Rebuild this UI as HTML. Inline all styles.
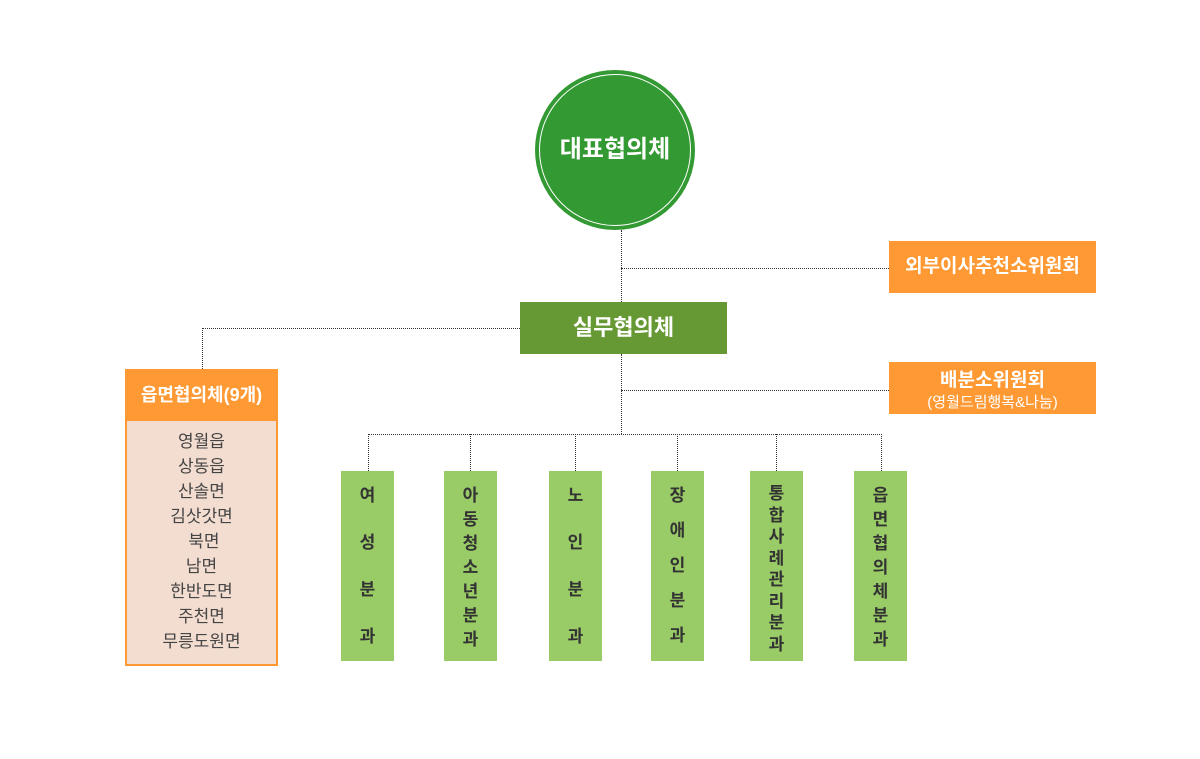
<!DOCTYPE html>
<html><head><meta charset="utf-8"><style>
body{margin:0;width:1200px;height:759px;background:#fff;position:relative;overflow:hidden;font-family:"Liberation Sans","Noto Sans CJK KR",sans-serif}
div{position:absolute;box-sizing:border-box}
.h{border-top:1px dotted #333;height:0}
.v{border-left:1px dotted #333;width:0}
.org{background:#ff9933;color:#fff;font-weight:bold;text-align:center}
.g{background:#99cc66;width:53px;top:471px;height:190px}
.c{width:53px;text-align:center;font-size:17px;font-weight:bold;color:#333;line-height:20px}
</style></head><body>
<div class="v" style="left:621px;top:230px;height:72px"></div>
<div class="v" style="left:621px;top:354px;height:80px"></div>
<div class="h" style="left:621px;top:268px;width:268px"></div>
<div class="h" style="left:621px;top:390px;width:268px"></div>
<div class="h" style="left:202px;top:328px;width:318px"></div>
<div class="v" style="left:202px;top:328px;height:41px"></div>
<div class="h" style="left:368px;top:434px;width:514px"></div>
<div class="v" style="left:368px;top:434px;height:37px"></div>
<div class="v" style="left:470px;top:434px;height:37px"></div>
<div class="v" style="left:575px;top:434px;height:37px"></div>
<div class="v" style="left:677px;top:434px;height:37px"></div>
<div class="v" style="left:776px;top:434px;height:37px"></div>
<div class="v" style="left:881px;top:434px;height:37px"></div>

<div style="left:535px;top:70px;width:160px;height:160px;border-radius:50%;background:#339933"></div>
<div style="left:539px;top:74px;width:152px;height:152px;border-radius:50%;border:1px solid #fff"></div>
<div style="left:535px;top:135px;width:160px;text-align:center;color:#fff;font-size:24px;font-weight:bold;line-height:30px">대표협의체</div>

<div class="org" style="left:889px;top:241px;width:207px;height:52px;line-height:52px;font-size:19px">외부이사추천소위원회</div>
<div style="left:520px;top:302px;width:207px;height:52px;line-height:52px;background:#669933;color:#fff;font-weight:bold;font-size:22px;text-align:center">실무협의체</div>
<div class="org" style="left:889px;top:362px;width:207px;height:52px;font-size:19px;padding-top:8px;line-height:21px">배분소위원회<br><span style="font-weight:normal;font-size:15px;line-height:16px">(영월드림행복&amp;나눔)</span></div>

<div style="left:125px;top:369px;width:153px;height:297px;background:#f3ddd0;border:2px solid #ff9933"></div>
<div class="org" style="left:125px;top:369px;width:153px;height:52px;line-height:52px;font-size:18px">읍면협의체(9개)</div>
<div style="left:125px;top:429px;width:153px;text-align:center;color:#444;font-size:17px;line-height:25px">영월읍<br>상동읍<br>산솔면<br>김삿갓면<br>&nbsp;북면<br>남면<br>한반도면<br>주천면<br>무릉도원면</div>

<div class="g" style="left:341px"></div>
<div class="g" style="left:444px"></div>
<div class="g" style="left:549px"></div>
<div class="g" style="left:651px"></div>
<div class="g" style="left:750px"></div>
<div class="g" style="left:854px"></div>

<div class="c" style="left:341px;top:472px;line-height:47px">여<br>성<br>분<br>과</div>
<div class="c" style="left:444px;top:484px;line-height:24px">아<br>동<br>청<br>소<br>년<br>분<br>과</div>
<div class="c" style="left:549px;top:472px;line-height:47px">노<br>인<br>분<br>과</div>
<div class="c" style="left:651px;top:478px;line-height:35px">장<br>애<br>인<br>분<br>과</div>
<div class="c" style="left:750px;top:483px;line-height:21.5px">통<br>합<br>사<br>례<br>관<br>리<br>분<br>과</div>
<div class="c" style="left:854px;top:484px;line-height:24px">읍<br>면<br>협<br>의<br>체<br>분<br>과</div>
</body></html>
